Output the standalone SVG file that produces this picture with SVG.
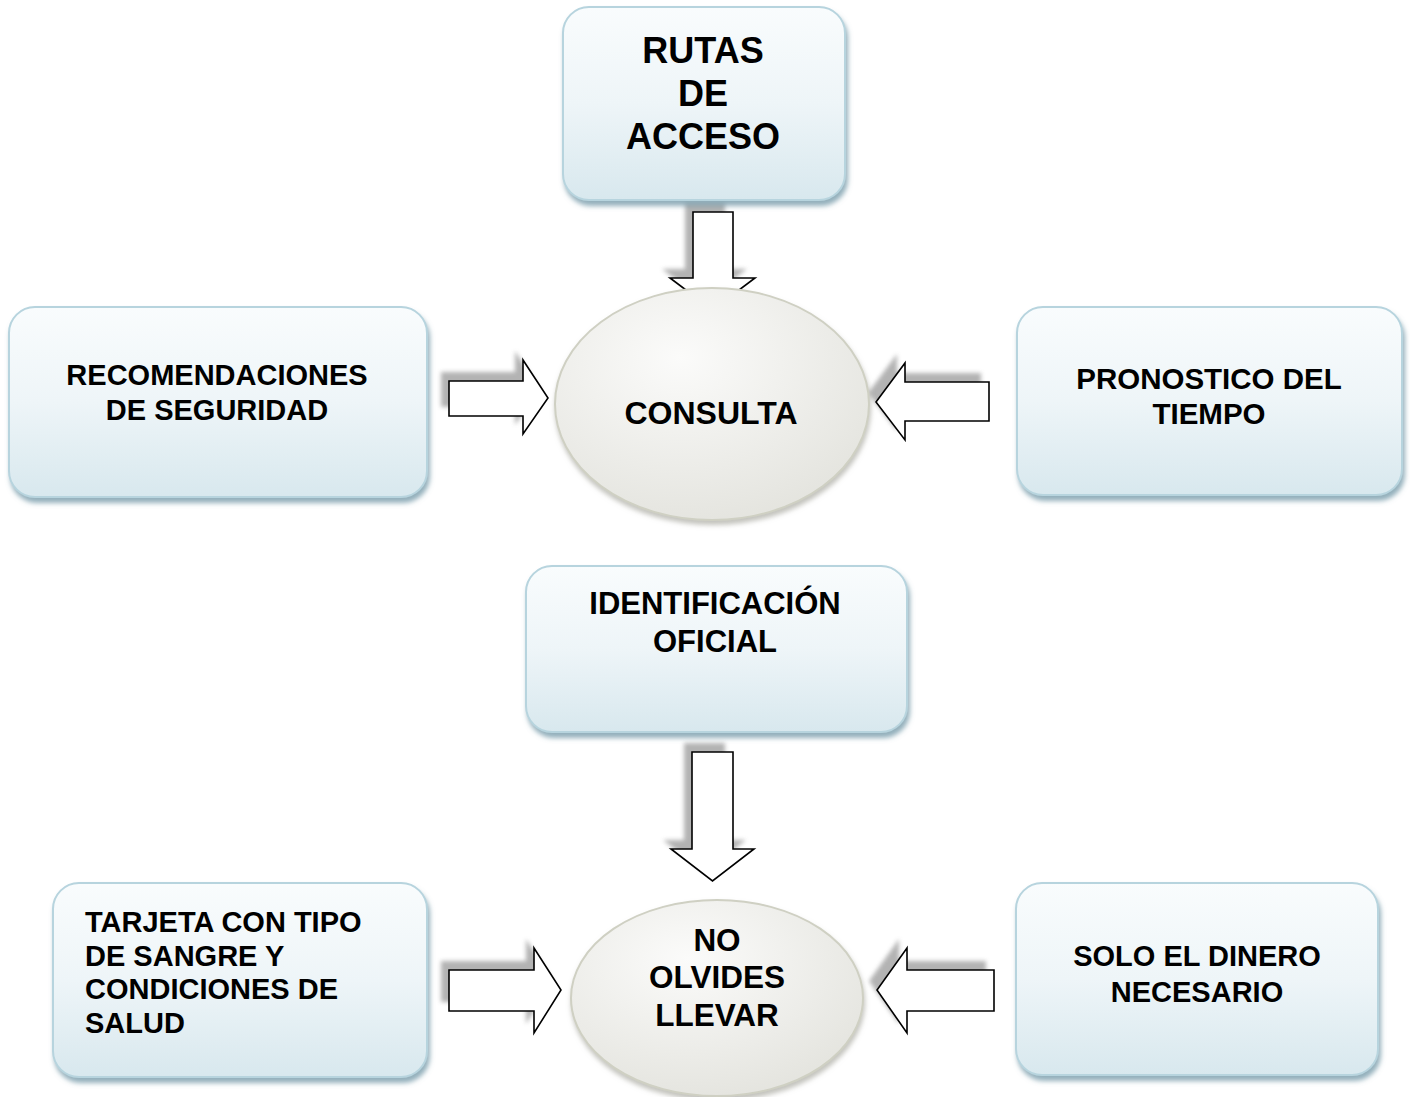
<svg xmlns="http://www.w3.org/2000/svg" width="1410" height="1097" viewBox="0 0 1410 1097">
  <defs>
    <linearGradient id="boxGrad" x1="0" y1="0" x2="0" y2="1">
      <stop offset="0" stop-color="#f9fcfd"/>
      <stop offset="0.5" stop-color="#eef5f8"/>
      <stop offset="1" stop-color="#d8e8ee"/>
    </linearGradient>
    <radialGradient id="ellGrad" cx="0.4" cy="0.3" r="0.8">
      <stop offset="0" stop-color="#fbfbfa"/>
      <stop offset="1" stop-color="#e2e2dc"/>
    </radialGradient>
    <filter id="boxShadow" x="-10%" y="-10%" width="120%" height="125%">
      <feGaussianBlur in="SourceAlpha" stdDeviation="2.5"/>
      <feOffset dx="2" dy="5" result="b"/>
      <feFlood flood-color="#6f95a5" flood-opacity="0.75"/>
      <feComposite in2="b" operator="in"/>
      <feMerge><feMergeNode/><feMergeNode in="SourceGraphic"/></feMerge>
    </filter>
    <filter id="ellShadow" x="-10%" y="-10%" width="120%" height="125%">
      <feGaussianBlur in="SourceAlpha" stdDeviation="2.5"/>
      <feOffset dx="1" dy="4" result="b"/>
      <feFlood flood-color="#9a9a90" flood-opacity="0.6"/>
      <feComposite in2="b" operator="in"/>
      <feMerge><feMergeNode/><feMergeNode in="SourceGraphic"/></feMerge>
    </filter>
    <filter id="arrShadow" x="-30%" y="-30%" width="160%" height="160%">
      <feGaussianBlur stdDeviation="2"/>
    </filter>
  </defs>
  <style>
    .box { fill: url(#boxGrad); stroke: #b7d4de; stroke-width: 2; filter: url(#boxShadow); }
    .ell { fill: url(#ellGrad); stroke: #cfd0c3; stroke-width: 2; filter: url(#ellShadow); }
    .arr { fill: #ffffff; stroke: #000000; stroke-width: 1.6; stroke-linejoin: miter; }
    .shd { fill: #a6a6a6; opacity: 0.85; filter: url(#arrShadow); }
    text { font-family: "Liberation Sans", Arial, sans-serif; font-weight: bold; fill: #000000; }
    .c { text-anchor: middle; }
  </style>

  <g id="connectors">
    <g id="arrow-rutas">
      <polygon class="shd" transform="translate(-8,-9)" points="693,212 733,212 733,278 755,278 712.5,310 670,278 693,278"/>
      <polygon class="arr" points="693,212 733,212 733,278 755,278 712.5,310 670,278 693,278"/>
    </g>
    <g id="arrow-recomendaciones">
      <polygon class="shd" transform="translate(-8,-9)" points="449,381 523,381 523,360 548,398 523,434 523,416 449,416"/>
      <polygon class="arr" points="449,381 523,381 523,360 548,398 523,434 523,416 449,416"/>
    </g>
    <g id="arrow-pronostico">
      <polygon class="shd" transform="translate(-8,-9)" points="989,382 905,382 905,363 876,402 905,440 905,421 989,421"/>
      <polygon class="arr" points="989,382 905,382 905,363 876,402 905,440 905,421 989,421"/>
    </g>
    <g id="arrow-identificacion">
      <polygon class="shd" transform="translate(-8,-9)" points="692,752 733,752 733,849 754,849 712.5,881 671,849 692,849"/>
      <polygon class="arr" points="692,752 733,752 733,849 754,849 712.5,881 671,849 692,849"/>
    </g>
    <g id="arrow-tarjeta">
      <polygon class="shd" transform="translate(-8,-9)" points="449,970 534,970 534,948 561,990 534,1033 534,1011 449,1011"/>
      <polygon class="arr" points="449,970 534,970 534,948 561,990 534,1033 534,1011 449,1011"/>
    </g>
    <g id="arrow-dinero">
      <polygon class="shd" transform="translate(-8,-9)" points="994,970 907,970 907,948 877,990 907,1033 907,1011 994,1011"/>
      <polygon class="arr" points="994,970 907,970 907,948 877,990 907,1033 907,1011 994,1011"/>
    </g>
  </g>

  <g id="node-rutas">
    <rect class="box" x="563" y="7" width="282" height="193" rx="26"/>
    <text class="c" x="703" y="63" font-size="36">RUTAS</text>
    <text class="c" x="703" y="106" font-size="36">DE</text>
    <text class="c" x="703" y="149" font-size="36">ACCESO</text>
  </g>

  <g id="node-recomendaciones">
    <rect class="box" x="9" y="307" width="418" height="190" rx="26"/>
    <text class="c" x="217" y="385" font-size="29">RECOMENDACIONES</text>
    <text class="c" x="217" y="420" font-size="29">DE SEGURIDAD</text>
  </g>

  <g id="node-consulta">
    <ellipse class="ell" cx="712" cy="404" rx="157" ry="116"/>
    <text class="c" x="711" y="424" font-size="32">CONSULTA</text>
  </g>

  <g id="node-pronostico">
    <rect class="box" x="1017" y="307" width="385" height="188" rx="26"/>
    <text class="c" x="1209" y="389" font-size="29.5">PRONOSTICO DEL</text>
    <text class="c" x="1209" y="424" font-size="29.5">TIEMPO</text>
  </g>

  <g id="node-identificacion">
    <rect class="box" x="526" y="566" width="381" height="166" rx="26"/>
    <text class="c" x="715" y="614" font-size="31">IDENTIFICACIÓN</text>
    <text class="c" x="715" y="652" font-size="31">OFICIAL</text>
  </g>

  <g id="node-no-olvides">
    <ellipse class="ell" cx="717" cy="998" rx="146" ry="98"/>
    <text class="c" x="717" y="951" font-size="31.5">NO</text>
    <text class="c" x="717" y="988" font-size="31.5">OLVIDES</text>
    <text class="c" x="717" y="1026" font-size="31.5">LLEVAR</text>
  </g>

  <g id="node-tarjeta">
    <rect class="box" x="53" y="883" width="374" height="194" rx="26"/>
    <text x="85" y="932" font-size="29">TARJETA CON TIPO</text>
    <text x="85" y="966" font-size="29">DE SANGRE Y</text>
    <text x="85" y="999" font-size="29">CONDICIONES DE</text>
    <text x="85" y="1033" font-size="29">SALUD</text>
  </g>

  <g id="node-dinero">
    <rect class="box" x="1016" y="883" width="362" height="192" rx="26"/>
    <text class="c" x="1197" y="966" font-size="29">SOLO EL DINERO</text>
    <text class="c" x="1197" y="1002" font-size="29">NECESARIO</text>
  </g>
</svg>
